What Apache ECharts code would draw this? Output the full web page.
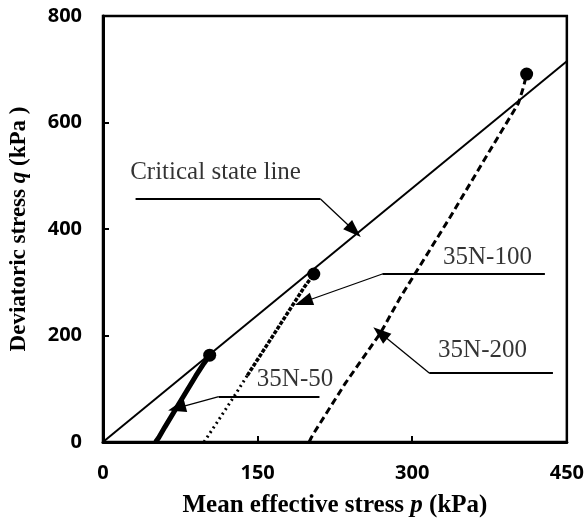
<!DOCTYPE html>
<html>
<head>
<meta charset="utf-8">
<script src="https://cdn.jsdelivr.net/npm/echarts@6/dist/echarts.min.js"></script>
<style>html,body{margin:0;padding:0;background:#fff;}#c{width:587px;height:526px;}</style>
</head>
<body>
<div id="c"></div>
<script>
// Axis ranges / ticks
const xMin = 0, xMax = 450, xStep = 150;
const yMin = 0, yMax = 800, yStep = 200;

// Critical state line
const cslP = [0, 450];
const cslQ = [0, 715];

// Stress paths (p, q in kPa)
const s50P = [51, 54, 60, 70, 80, 90, 98, 103.5];
const s50Q = [0, 8, 28, 60, 92, 124, 148, 163];

const s100LowP = [98, 110, 127, 140];
const s100LowQ = [0, 35, 85, 125];
const s100HighP = [140, 160, 180, 195, 204.5];
const s100HighQ = [125, 185, 245, 290, 315.5];

const s200P = [200, 202, 205, 235, 269, 288, 337, 375.5, 403, 408, 411];
const s200Q = [0, 8, 18, 110, 204, 270, 423, 548, 636, 667, 691];

// Peak (failure) points
const peakP = [103.5, 204.5, 411];
const peakQ = [163, 315.5, 691];

// Annotation texts and anchor values
const noteText = ['Critical state line', '35N-100', '35N-200', '35N-50'];
const noteP = [109.2, 373, 368.2, 186.3];
const noteQ = [505.6, 347.4, 172.8, 117.4];

// Leader lines: start -> elbow -> tip, in (p, q)
const leaderStartP = [31.6, 428.7, 436.5, 210];
const leaderElbowP = [211, 271, 316.5, 112.3];
const leaderElbowQ = [456.3, 315.5, 129.6, 85.1];
const leaderTipP = [243.7, 194.5, 269, 71.6];
const leaderTipQ = [396.6, 262.9, 204.7, 63.8];

const zip = (a, b) => a.map((v, i) => [v, b[i]]);

const markData = [];
for (let i = 0; i < leaderStartP.length; i++) {
  markData.push([
    { coord: [leaderStartP[i], leaderElbowQ[i]], symbol: 'none', lineStyle: { width: 2 } },
    { coord: [leaderElbowP[i], leaderElbowQ[i]], symbol: 'none' }
  ]);
  markData.push([
    { coord: [leaderElbowP[i], leaderElbowQ[i]], symbol: 'none', lineStyle: { width: 1.3 } },
    { coord: [leaderTipP[i], leaderTipQ[i]], symbol: 'triangle' }
  ]);
}

const serif = '"Liberation Serif", "Times New Roman", serif';
const sans = '"Open Sans", "Liberation Sans", Arial, sans-serif';

const chart = echarts.init(document.getElementById('c'), null, { renderer: 'canvas' });
chart.setOption({
  animation: false,
  backgroundColor: '#fff',
  grid: { left: 102, right: 20, top: 16, bottom: 84, show: true, borderColor: '#000', borderWidth: 2.5, backgroundColor: 'transparent' },
  xAxis: {
    type: 'value', min: xMin, max: xMax, interval: xStep,
    name: 'Mean effective stress {i|p} (kPa)',
    nameLocation: 'middle', nameGap: 51,
    nameTextStyle: { fontFamily: serif, fontWeight: 'bold', fontSize: 25, color: '#000',
      rich: { i: { fontFamily: serif, fontWeight: 'bold', fontStyle: 'italic', fontSize: 25, color: '#000' } } },
    axisLine: { show: true, lineStyle: { color: '#000', width: 3 } },
    axisTick: { show: true, inside: true, length: 6, lineStyle: { color: '#000', width: 2 } },
    axisLabel: { fontFamily: sans, fontWeight: 'bold', fontSize: 20, color: '#000', margin: 21 },
    splitLine: { show: false }
  },
  yAxis: {
    type: 'value', min: yMin, max: yMax, interval: yStep,
    name: 'Deviatoric stress {i|q} (kPa )',
    nameLocation: 'middle', nameGap: 72, nameRotate: 90,
    nameTextStyle: { fontFamily: serif, fontWeight: 'bold', fontSize: 23, color: '#000',
      rich: { i: { fontFamily: serif, fontWeight: 'bold', fontStyle: 'italic', fontSize: 23, color: '#000' } } },
    axisLine: { show: true, lineStyle: { color: '#000', width: 3 } },
    axisTick: { show: true, inside: true, length: 6, lineStyle: { color: '#000', width: 2 } },
    axisLabel: { fontFamily: sans, fontWeight: 'bold', fontSize: 20, color: '#000', margin: 21 },
    splitLine: { show: false }
  },
  series: [
    { name: 'CSL', type: 'line', data: zip(cslP, cslQ), symbol: 'none',
      lineStyle: { color: '#000', width: 2 }, silent: true,
      markLine: { silent: true, symbolSize: [13, 18], label: { show: false },
        itemStyle: { color: '#000' },
        lineStyle: { color: '#000', type: 'solid', width: 1.3 }, data: markData } },
    { name: '35N-50', type: 'line', data: zip(s50P, s50Q), symbol: 'none',
      lineStyle: { color: '#000', width: 5 } },
    { name: '35N-100a', type: 'line', data: zip(s100LowP, s100LowQ), symbol: 'none',
      lineStyle: { color: '#000', width: 3, type: [2, 3.5] } },
    { name: '35N-100b', type: 'line', data: zip(s100HighP, s100HighQ), symbol: 'none',
      lineStyle: { color: '#000', width: 3.5, type: [4, 1.5] } },
    { name: '35N-200', type: 'line', data: zip(s200P, s200Q), symbol: 'none',
      lineStyle: { color: '#000', width: 3, type: [7, 4] } },
    { name: 'peaks', type: 'scatter', data: zip(peakP, peakQ), symbol: 'circle', symbolSize: 13,
      itemStyle: { color: '#000', opacity: 1 } },
    { name: 'notes', type: 'scatter', data: zip(noteP, noteQ), symbolSize: 1,
      itemStyle: { color: 'rgba(0,0,0,0)' },
      label: { show: true, position: 'inside', align: 'center', verticalAlign: 'middle',
        formatter: p => noteText[p.dataIndex],
        fontFamily: serif, fontSize: 25, color: '#000' } }
  ]
});
</script>
</body>
</html>
